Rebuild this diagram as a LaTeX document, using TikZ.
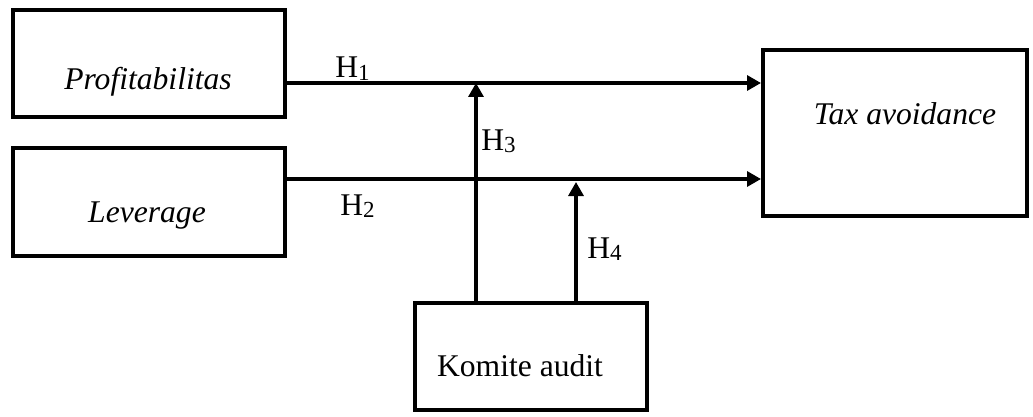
\documentclass[tikz,border=0pt]{standalone}
\usepackage{fontspec}
\setmainfont{Liberation Serif}
\usetikzlibrary{arrows.meta}
\newcommand{\hsub}[1]{H{\fontsize{11.5}{13}\selectfont\raisebox{-1.2pt}{#1}}}
\begin{document}
\begin{tikzpicture}[x=0.5pt,y=-0.5pt,
  box/.style={draw=black,line width=2pt,rectangle,inner sep=0pt},
  arr/.style={draw=black,line width=1.6pt,-{Triangle[length=7pt,width=7.5pt]}},
  txt/.style={font=\fontsize{15.8}{19}\selectfont,anchor=base,inner sep=0pt},
  hlab/.style={font=\fontsize{15.8}{19}\selectfont,anchor=base west,inner sep=0pt}]
\useasboundingbox (0,0) rectangle (1033,417);
% boxes
\node[box,minimum width=136pt,minimum height=53.5pt] (prof) at (149,63.5) {};
\node[box,minimum width=136pt,minimum height=54pt] (lev) at (149,202) {};
\node[box,minimum width=132pt,minimum height=83pt] (tax) at (895,133) {};
\node[box,minimum width=116pt,minimum height=53.5pt] (kom) at (531,356.5) {};
% texts
\node[txt] (tprof) at (148,90) {\itshape Profitabilitas};
\node[txt] (tlev) at (147,222) {\itshape Leverage};
\node[txt] (ttax) at (905,125) {\itshape Tax avoidance};
\node[txt] (tkom) at (520,376) {Komite audit};
% connector coordinates
\coordinate (h3tip) at (476,83);
\coordinate (h4tip) at (576,182);
% arrows
\draw[arr] (prof.east |- h3tip) -- (tax.west |- h3tip);
\draw[arr] (lev.east |- 0,179) -- (tax.west |- 0,179);
\draw[arr] (kom.north -| h3tip) -- (h3tip);
\draw[arr] (kom.north -| h4tip) -- (h4tip);
% labels
\node[hlab] (h1) at (335,78) {\hsub{1}};
\node[hlab] (h2) at (340,215) {\hsub{2}};
\node[hlab] (h3) at (481,150) {\hsub{3}};
\node[hlab] (h4) at (587,258) {\hsub{4}};
\end{tikzpicture}
\end{document}
